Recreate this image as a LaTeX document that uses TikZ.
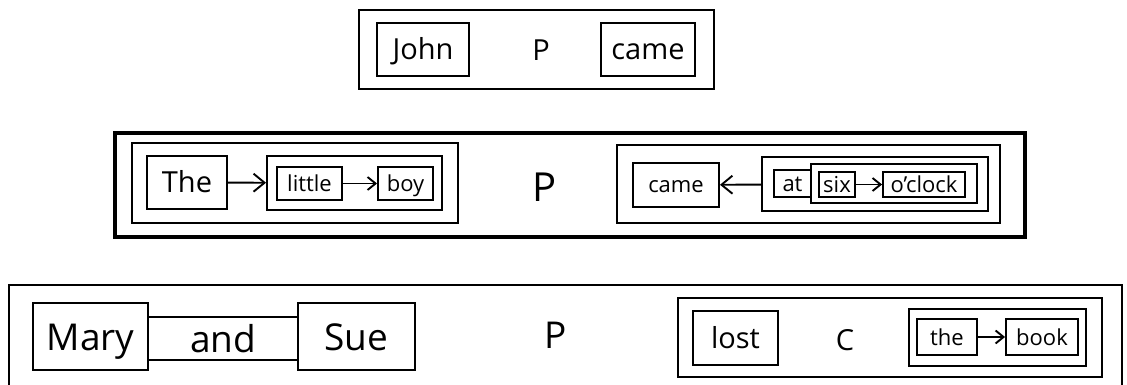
\documentclass[tikz,border=0pt]{standalone}
\usepackage{fontspec}
\setmainfont{Open Sans}
\usetikzlibrary{arrows.meta}
\tikzset{
  box/.style={draw, inner sep=0pt, line width=1.9pt},
  frame/.style={draw, inner sep=0pt, line width=2.4pt},
  txtA/.style={font=\fontsize{29}{30}\selectfont, text height=21pt, text depth=0pt},
  txtB/.style={font=\fontsize{22}{24}\selectfont, text height=16pt, text depth=0pt},
  txtC/.style={font=\fontsize{37}{40}\selectfont, text height=27pt, text depth=0pt},
  bigtip/.style={-{Straight Barb[length=11pt,width=18pt]}},
  smalltip/.style={-{Straight Barb[length=8pt,width=13pt]}}
}
\begin{document}
\begin{tikzpicture}[x=1pt, y=-1pt, line width=1.9pt]
        \useasboundingbox (0,0) rectangle (1127,385);
        % 第一行
        \node[frame, minimum width=355, minimum height=79] (top) at (536.5,49.5) {};
        \node[box, txtA, minimum width=92, minimum height=53] (john) at (423,49.5) {John};
        \node[txtA] (p1) at (541,50) {P};
        \node[box, txtA, minimum width=94, minimum height=53] (came) at (648,49.5) {came};

        % 第二行
        \node[draw, inner sep=0pt, line width=3.4pt, minimum width=910, minimum height=104] (mid) at (570,185) {};
        \node[box, minimum width=326, minimum height=80] (lgrp) at (295,183) {};
        \node[box, txtA, minimum width=80, minimum height=53] (the) at (187,182.5) {The};
        \node[box, minimum width=175, minimum height=54] (lb) at (354.5,183) {};
        \node[box, txtB, minimum width=65, minimum height=33] (little) at (309.5,183.5) {little};
        \node[box, txtB, minimum width=55, minimum height=33] (boy) at (405.5,183.5) {boy};
        \node[font=\fontsize{40}{42}\selectfont, text height=29pt, text depth=0pt] (p2) at (545,187) {P};
        \node[box, minimum width=383, minimum height=78] (rgrp) at (808.5,184) {};
        \node[box, txtB, minimum width=86, minimum height=44] (came2) at (676,185) {came};
        \node[box, minimum width=226, minimum height=54] (asc) at (875,184) {};
        \node[box, txtB, minimum width=37, minimum height=27] (at) at (792.5,183.5) {at};
        \node[box, minimum width=166, minimum height=39] (sc) at (894,183.5) {};
        \node[box, txtB, minimum width=36, minimum height=25] (six) at (837,184.5) {six};
        \node[box, txtB, minimum width=82, minimum height=25] (oclock) at (924,184.5) {o'clock};

        % 第三行
        \node[frame, minimum width=1113, minimum height=115] (bot) at (565.5,342.5) {};
        \node[box, txtC, minimum width=115, minimum height=67] (mary) at (90.5,336.5) {Mary};
        \node[txtC, minimum width=150, minimum height=41] (and) at (223,338.5) {and};
        \node[box, txtC, minimum width=117, minimum height=67] (sue) at (356.5,336.5) {Sue};
        \node[txtC] (p3) at (556,335) {P};
        \node[box, minimum width=424, minimum height=79] (rgrp3) at (890,337.5) {};
        \node[box, txtA, minimum width=85, minimum height=54] (lost) at (735.5,338) {lost};
        \node[txtA] (c) at (845,340) {C};
        \node[box, minimum width=177, minimum height=57] (tb) at (997.5,337.5) {};
        \node[box, txtB, minimum width=60, minimum height=36] (the2) at (947,337) {the};
        \node[box, txtB, minimum width=72, minimum height=36] (book) at (1042,337) {book};

        % 连线
        \draw[bigtip] (the) -- (lb);
        \draw[smalltip] (little) -- (boy);
        \draw[bigtip] (asc) -- (came2);
        \draw[smalltip] (six) -- (oclock);
        \draw[smalltip] (the2) -- (book);
        \draw[-] (mary.east |- and.north) -- (sue.west |- and.north);
        \draw[-] (mary.east |- and.south) -- (sue.west |- and.south);
    \end{tikzpicture}
\end{document}
